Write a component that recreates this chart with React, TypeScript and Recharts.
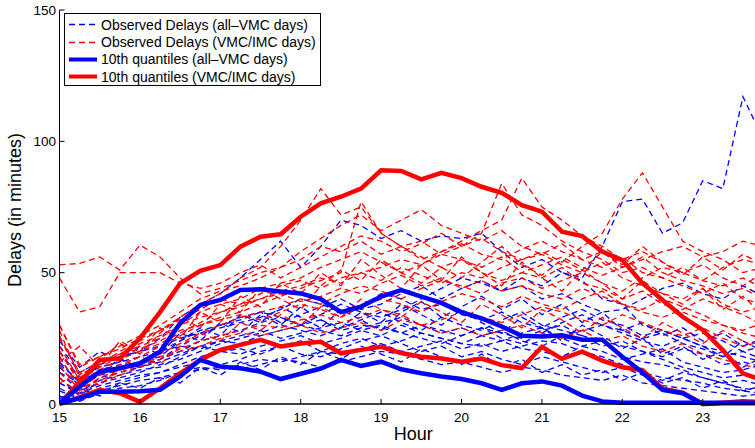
import { LineChart, Line, XAxis, YAxis } from "recharts";

const FONT = "'Liberation Sans', Arial, Helvetica, sans-serif";
const BLUE = "#0000ff";
const RED = "#ff0000";

// quarter-hour samples, 15:00 .. 23:45
const hours = [
  15, 15.25, 15.5, 15.75, 16, 16.25, 16.5, 16.75, 17, 17.25, 17.5, 17.75,
  18, 18.25, 18.5, 18.75, 19, 19.25, 19.5, 19.75, 20, 20.25, 20.5, 20.75,
  21, 21.25, 21.5, 21.75, 22, 22.25, 22.5, 22.75, 23, 23.25, 23.5, 23.75,
];
const hourTicks = [15, 16, 17, 18, 19, 20, 21, 22, 23];
const delayTicks = [0, 50, 100, 150];

// thick quantile lines
const redUpper = [0, 8.4, 16.8, 17.3, 25, 35, 45.9, 50.7, 52.9, 59.9, 63.7, 64.6, 71.3, 76.4, 78.9, 82, 89, 88.7, 85.5, 88, 86, 82.7, 80.4, 75.7, 73.2, 65.6, 63.9, 58, 54.8, 46, 39.6, 33.2, 28.2, 20.5, 11.7, 9];
const redLower = [0, 2.5, 5.4, 4.1, 0.8, 6, 11.7, 16.8, 20.6, 22.5, 24.4, 21.9, 23, 23.7, 19.3, 20.6, 21.8, 19.4, 18, 17.3, 16.1, 17.3, 14.8, 13.7, 21.8, 17.2, 19.9, 16.5, 14, 12.9, 5.8, 4.3, 0, 0.5, 1, 0.8];
const blueUpper = [0.3, 6.6, 12.3, 13.6, 15.5, 19.9, 30.7, 37.7, 39.6, 43.4, 43.7, 42.8, 42.1, 39.9, 35, 37.1, 40.9, 43.4, 40.9, 38.5, 35, 32.6, 29.5, 26, 25.7, 26.2, 24.5, 24.5, 18, 12, 5.4, 4.1, 0, 0.3, 0.3, 0.3];
const blueLower = [0.3, 2.2, 4.7, 4.7, 4.9, 5.4, 10.5, 16.8, 14.3, 13.6, 12.3, 9.5, 11.5, 13.5, 16.8, 14.5, 16.1, 13.2, 11.7, 10.5, 9.5, 7.9, 5.4, 7.9, 8.6, 7, 3.2, 1, 0.5, 0.5, 0.5, 0.5, 0.5, 0.5, 0.5, 0.5];

// observed delays, all-VMC days
const b1 = [8, 4, 10, 12, 14, 17, 22, 26, 30, 33, 35, 31, 34, 37, 40, 36, 38, 42, 45, 40, 44, 47, 43, 48, 45, 50, 48, 60, 77, 78, 65, 69, 85, 82, 117, 101];
const b2 = [12, 8, 15, 18, 20, 25, 33, 38, 42, 48, 55, 62, 52, 60, 70, 68, 63, 66, 62, 64, 63, 65, 58, 52, 55, 50, 47, 40, 38, 30, 28, 25, 22, 18, 20, 17];
const b3 = [18, 6, 12, 14, 16, 18, 24, 28, 30, 32, 35, 33, 30, 34, 38, 35, 33, 36, 40, 44, 48, 46, 43, 45, 40, 42, 38, 35, 36, 40, 44, 46, 42, 40, 45, 41];
const b4 = [10, 3, 9, 11, 13, 14, 18, 22, 24, 23, 26, 28, 30, 32, 28, 30, 29, 27, 30, 28, 26, 29, 27, 25, 28, 30, 26, 24, 22, 20, 18, 21, 19, 15, 16, 14];
const b5 = [5, 2, 6, 8, 10, 12, 15, 18, 20, 21, 19, 22, 24, 20, 23, 25, 22, 24, 27, 25, 23, 22, 24, 21, 20, 18, 22, 24, 18, 16, 15, 13, 10, 8, 9, 7];
const b6 = [14, 7, 11, 13, 15, 17, 20, 24, 26, 28, 31, 33, 30, 28, 26, 29, 31, 33, 30, 27, 29, 26, 24, 27, 29, 25, 22, 20, 17, 19, 21, 16, 14, 12, 13, 15];
const b7 = [3, 1, 4, 6, 7, 9, 12, 14, 13, 15, 17, 16, 18, 20, 19, 21, 23, 20, 22, 24, 21, 23, 20, 22, 24, 23, 20, 18, 15, 12, 10, 9, 8, 6, 5, 4];
const b8 = [20, 10, 14, 16, 18, 20, 22, 21, 24, 26, 28, 25, 27, 29, 31, 28, 26, 30, 27, 25, 23, 26, 28, 24, 22, 26, 28, 30, 27, 24, 22, 25, 27, 24, 20, 22];
const b9 = [8, 4, 7, 9, 11, 12, 14, 16, 15, 17, 20, 22, 19, 18, 21, 24, 26, 23, 20, 22, 18, 20, 17, 15, 18, 16, 14, 12, 14, 11, 9, 12, 10, 8, 6, 5];
const b10 = [12, 5, 8, 10, 12, 15, 17, 20, 23, 25, 27, 30, 28, 26, 29, 32, 35, 31, 28, 33, 30, 28, 32, 35, 30, 28, 26, 22, 24, 20, 17, 14, 12, 10, 11, 9];
const b11 = [16, 8, 13, 15, 14, 16, 19, 22, 20, 19, 22, 24, 26, 23, 25, 28, 30, 27, 25, 23, 26, 29, 25, 23, 27, 31, 34, 30, 28, 25, 27, 23, 21, 18, 24, 20];
const b12 = [6, 2, 5, 7, 9, 10, 12, 13, 14, 13, 15, 17, 16, 14, 16, 18, 20, 19, 17, 15, 16, 14, 12, 14, 13, 11, 10, 9, 11, 8, 7, 6, 5, 4, 3, 4];
const b13 = [22, 12, 16, 18, 20, 22, 25, 27, 29, 31, 33, 36, 40, 38, 35, 37, 42, 40, 36, 38, 34, 32, 35, 31, 29, 33, 36, 32, 30, 26, 28, 25, 22, 20, 18, 16];
const b14 = [2, 6, 3, 8, 6, 10, 8, 14, 11, 16, 13, 18, 15, 20, 17, 22, 19, 16, 21, 18, 15, 19, 14, 17, 12, 15, 11, 13, 9, 12, 8, 10, 6, 9, 5, 7];
const b15 = [24, 14, 20, 16, 22, 19, 27, 24, 31, 27, 34, 30, 37, 32, 29, 35, 31, 38, 34, 30, 36, 31, 27, 33, 29, 24, 30, 26, 21, 25, 19, 22, 17, 20, 14, 18];
const b16 = [15, 9, 12, 17, 14, 20, 24, 29, 26, 34, 31, 37, 33, 29, 36, 32, 28, 35, 39, 33, 37, 41, 36, 40, 34, 38, 31, 35, 28, 31, 26, 29, 24, 27, 22, 25];

// observed delays, VMC/IMC days
const r1 = [53, 53.5, 56, 51, 60.5, 56, 48, 42, 44, 47, 50, 52, 55, 60, 58, 62, 57, 60, 55, 58, 61, 57, 55, 59, 62, 58, 55, 52, 56, 50, 48, 52, 47, 45, 48, 44];
const r2 = [48, 35, 37, 50, 50, 50, 46, 44, 46, 50, 53, 48, 52, 56, 60, 64, 62, 58, 61, 65, 60, 63, 58, 55, 57, 53, 50, 54, 48, 45, 42, 40, 44, 38, 35, 37];
const r3 = [28, 10, 15, 20, 24, 28, 33, 38, 42, 48, 52, 60, 70, 82, 72, 75, 65, 60, 62, 57, 55, 52, 56, 50, 48, 52, 46, 44, 40, 43, 38, 35, 32, 30, 28, 31];
const r4 = [25, 12, 16, 19, 22, 25, 30, 35, 38, 40, 44, 46, 48, 52, 55, 58, 54, 50, 53, 57, 60, 65, 84, 72, 68, 62, 58, 55, 50, 52, 48, 45, 42, 46, 40, 38];
const r5 = [20, 8, 13, 17, 20, 23, 27, 31, 35, 38, 40, 43, 45, 48, 46, 50, 52, 55, 53, 58, 62, 66, 70, 86, 75, 70, 64, 60, 55, 58, 54, 50, 53, 48, 45, 50];
const r6 = [30, 15, 18, 21, 25, 28, 32, 36, 40, 38, 42, 45, 47, 44, 48, 50, 47, 52, 49, 46, 50, 48, 52, 55, 58, 54, 60, 65, 78, 88, 75, 62, 58, 55, 50, 52];
const r7 = [18, 6, 11, 15, 18, 22, 26, 30, 33, 35, 38, 41, 44, 47, 50, 77, 65, 60, 56, 52, 55, 50, 47, 50, 53, 56, 52, 49, 52, 55, 58, 60, 56, 58, 62, 60];
const r8 = [15, 5, 10, 13, 16, 19, 23, 27, 30, 33, 35, 37, 40, 38, 42, 45, 43, 40, 44, 47, 45, 42, 46, 48, 44, 47, 50, 46, 43, 48, 52, 50, 47, 52, 55, 53];
const r9 = [22, 9, 14, 18, 21, 24, 28, 30, 32, 34, 32, 35, 38, 36, 33, 37, 40, 38, 35, 39, 42, 40, 37, 41, 38, 36, 40, 43, 38, 35, 33, 36, 40, 37, 34, 30];
const r10 = [10, 4, 8, 11, 14, 17, 21, 24, 26, 28, 30, 29, 32, 34, 31, 33, 36, 34, 30, 32, 35, 33, 31, 34, 37, 35, 32, 30, 34, 31, 28, 26, 29, 25, 22, 24];
const r11 = [26, 11, 15, 19, 23, 26, 30, 33, 35, 37, 40, 42, 39, 41, 44, 42, 46, 49, 45, 48, 44, 47, 43, 45, 42, 40, 44, 41, 38, 36, 40, 37, 34, 30, 27, 25];
const r12 = [12, 6, 9, 12, 15, 18, 20, 22, 25, 27, 26, 28, 30, 27, 29, 31, 28, 32, 30, 27, 29, 26, 28, 30, 27, 25, 28, 24, 26, 22, 20, 23, 19, 17, 15, 13];
const r13 = [30, 14, 18, 22, 26, 30, 35, 40, 43, 45, 48, 52, 58, 63, 68, 72, 66, 70, 74, 68, 65, 62, 66, 60, 57, 61, 55, 58, 52, 56, 50, 47, 45, 42, 44, 40];
const r14 = [16, 22, 14, 24, 20, 29, 25, 35, 31, 41, 37, 46, 42, 50, 45, 55, 49, 44, 53, 47, 56, 50, 45, 54, 48, 43, 51, 46, 40, 47, 42, 38, 44, 36, 41, 34];
const r15 = [20, 9, 17, 23, 19, 27, 33, 29, 38, 35, 44, 40, 36, 45, 51, 47, 55, 50, 46, 52, 48, 54, 60, 53, 49, 55, 51, 58, 53, 60, 54, 49, 56, 51, 57, 53];
const r16 = [8, 12, 7, 14, 18, 15, 22, 27, 24, 31, 28, 34, 30, 37, 33, 40, 36, 33, 39, 35, 31, 38, 34, 29, 36, 32, 27, 33, 29, 25, 31, 27, 23, 28, 24, 20];

const blueObserved = [b1, b2, b3, b4, b5, b6, b7, b8, b9, b10, b11, b12, b13, b14, b15, b16];
const redObserved = [r1, r2, r3, r4, r5, r6, r7, r8, r9, r10, r11, r12, r13, r14, r15, r16];

const legendItems = [
  { label: "Observed Delays (all–VMC days)", color: BLUE, dashed: true },
  { label: "Observed Delays (VMC/IMC days)", color: RED, dashed: true },
  { label: "10th quantiles (all–VMC days)", color: BLUE, dashed: false },
  { label: "10th quantiles (VMC/IMC days)", color: RED, dashed: false },
];

const data = hours.map((hour, i) => {
  const row: Record<string, number> = {
    hour,
    redUpper: redUpper[i],
    redLower: redLower[i],
    blueUpper: blueUpper[i],
    blueLower: blueLower[i],
  };
  blueObserved.forEach((s, j) => (row[`b${j}`] = s[i]));
  redObserved.forEach((s, j) => (row[`r${j}`] = s[i]));
  return row;
});

const BottomTick = ({ x, y, payload }: any) => (
  <g>
    <line x1={x} x2={x} y1={y} y2={y - 5} stroke="#000" />
    <text x={x} y={y + 17.5} textAnchor="middle" fontSize={13.5} fontFamily={FONT} fill="#000">
      {payload.value}
    </text>
  </g>
);

const TopTick = ({ x, y }: any) => <line x1={x} x2={x} y1={y} y2={y + 5} stroke="#000" />;

const LeftTick = ({ x, y, payload }: any) => (
  <g>
    <line x1={x} x2={x + 5} y1={y} y2={y} stroke="#000" />
    <text x={x - 3.5} y={y + 4.8} textAnchor="end" fontSize={13.5} fontFamily={FONT} fill="#000">
      {payload.value}
    </text>
  </g>
);

const HourLabel = ({ viewBox }: any) => (
  <text x={viewBox.x + viewBox.width / 2 + 6} y={viewBox.y + 36} textAnchor="middle" fontSize={18} fontFamily={FONT} fill="#000">
    Hour
  </text>
);

const DelayLabel = ({ viewBox }: any) => {
  const cy = viewBox.y + viewBox.height / 2 + 3;
  return (
    <text x={21} y={cy} transform={`rotate(-90 21 ${cy})`} textAnchor="middle" fontSize={18} fontFamily={FONT} fill="#000">
      Delays (in minutes)
    </text>
  );
};

function Legend() {
  return (
    <div
      style={{
        position: "absolute",
        left: 64,
        top: 13,
        width: 257,
        height: 73,
        border: "1px solid #000",
        background: "#fff",
        boxSizing: "border-box",
        fontFamily: FONT,
        fontSize: 14,
        color: "#000",
      }}
    >
      {legendItems.map((item, i) => (
        <div
          key={item.label}
          style={{ position: "absolute", left: 0, top: 2.4 + i * 17.2, height: 17.2, display: "flex", alignItems: "center", whiteSpace: "nowrap" }}
        >
          <svg width={36} height={17} style={{ display: "block" }}>
            <line
              x1={4}
              x2={32}
              y1={8.5}
              y2={8.5}
              stroke={item.color}
              strokeWidth={item.dashed ? 1.3 : 4}
              strokeDasharray={item.dashed ? "6 4" : undefined}
            />
          </svg>
          <span>{item.label}</span>
        </div>
      ))}
    </div>
  );
}

export default function App() {
  return (
    <div style={{ position: "relative", width: 755, height: 448, background: "#fff" }}>
      <style>{"body{margin:0}"}</style>
      <LineChart width={755} height={448} data={data} margin={{ top: 10, right: 0, bottom: 0, left: 0 }}>
        <XAxis
          dataKey="hour"
          type="number"
          domain={[15, 23.65]}
          allowDataOverflow
          ticks={hourTicks}
          interval={0}
          height={44}
          tickSize={0}
          tickMargin={0}
          tickLine={false}
          axisLine={{ stroke: "#000", strokeWidth: 1.5 }}
          tick={<BottomTick />}
          label={{ content: HourLabel }}
        />
        <XAxis
          xAxisId="top"
          orientation="top"
          dataKey="hour"
          type="number"
          domain={[15, 23.65]}
          allowDataOverflow
          ticks={hourTicks}
          interval={0}
          height={0}
          tickSize={0}
          tickMargin={0}
          tickLine={false}
          axisLine={{ stroke: "#000" }}
          tick={<TopTick />}
        />
        <YAxis
          type="number"
          domain={[0, 150]}
          ticks={delayTicks}
          interval={0}
          width={59.5}
          tickSize={0}
          tickMargin={0}
          tickLine={false}
          axisLine={{ stroke: "#000" }}
          tick={<LeftTick />}
          label={{ content: DelayLabel }}
        />
        {blueObserved.map((_, j) => (
          <Line
            key={`b${j}`}
            dataKey={`b${j}`}
            stroke={BLUE}
            strokeWidth={1.3}
            strokeDasharray="6 4"
            dot={false}
            activeDot={false}
            isAnimationActive={false}
          />
        ))}
        {redObserved.map((_, j) => (
          <Line
            key={`r${j}`}
            dataKey={`r${j}`}
            stroke={RED}
            strokeWidth={1.3}
            strokeDasharray="6 4"
            dot={false}
            activeDot={false}
            isAnimationActive={false}
          />
        ))}
        <Line dataKey="redUpper" stroke={RED} strokeWidth={4.5} dot={false} isAnimationActive={false} />
        <Line dataKey="redLower" stroke={RED} strokeWidth={4.5} dot={false} isAnimationActive={false} />
        <Line dataKey="blueUpper" stroke={BLUE} strokeWidth={4.5} dot={false} isAnimationActive={false} />
        <Line dataKey="blueLower" stroke={BLUE} strokeWidth={4.5} dot={false} isAnimationActive={false} />
      </LineChart>
      <Legend />
    </div>
  );
}
